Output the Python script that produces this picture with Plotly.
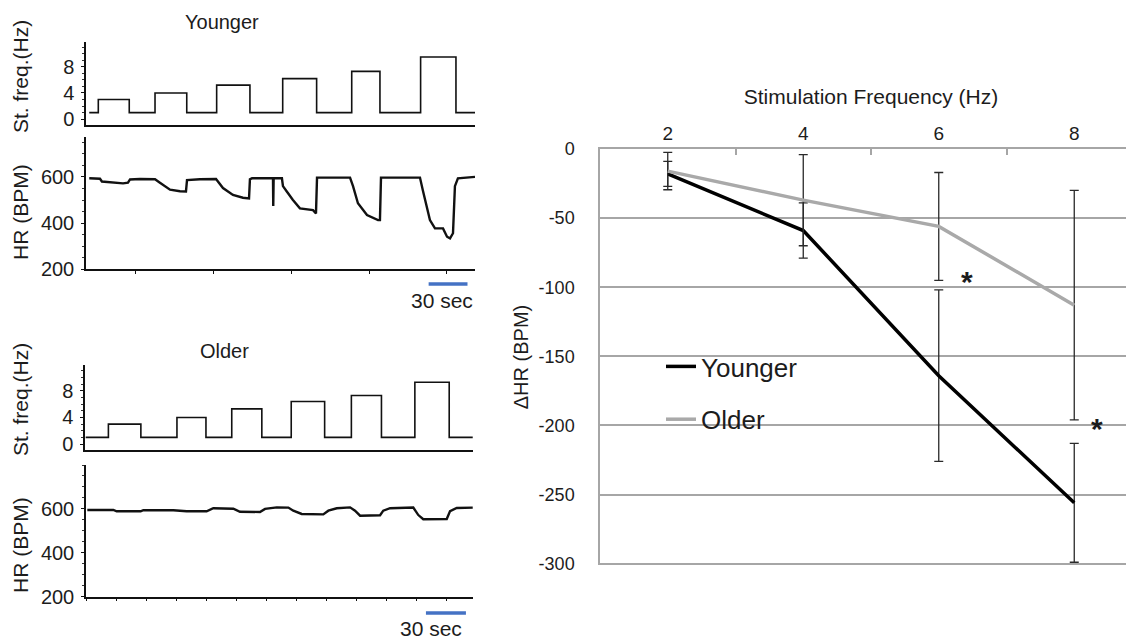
import plotly.graph_objects as go

W, H = 1134, 641
OFF = 8  # page body margin of the rendered html
FONT = "Liberation Sans, Arial, sans-serif"
TXT = "#1c1c1c"

# ---------------- Right panel: mean change in HR ----------------
stim_freq = [2, 4, 6, 8]
younger_dhr = [-18, -59, -164, -256]
younger_err = [9, 20, 62, 43]
older_dhr = [-16, -37, -56, -113]
older_err = [13.5, 33, 39, 83]
freq_ticks = [2, 4, 6, 8]
dhr_ticks = [0, -50, -100, -150, -200, -250, -300]
dhr_tick_labels = ["0", "-50", "-100", "-150", "-200", "-250", "-300"]

# ---------------- Left panels: example recordings ----------------
# Younger: stimulation protocol (time in s, frequency in Hz, step changes)
y_stim_t = [23.9, 30.9, 54.8, 74.7, 99.2, 122.3, 148.0, 173.3, 199.5, 226.6, 248.4, 279.8, 307.1, 321.8]
y_stim_hz = [1, 3, 1, 4, 1, 5.2, 1, 6.2, 1, 7.3, 1, 9.5, 1, 1]
# Younger: heart rate trace
y_hr_t = [23.9, 32.2, 33.7, 43.8, 50.0, 53.8, 55.4, 63.1, 74.7, 78.5,
          86.3, 94.0, 98.6, 99.4, 109.4, 121.8, 127.2, 134.9, 142.6, 147.3,
          148.0, 149.6, 165.8, 166.0, 166.3, 172.7, 173.5, 176.6, 181.2, 186.6,
          196.7, 199.0, 199.8, 225.3, 227.6, 231.4, 238.4, 246.9, 248.4, 249.2,
          279.3, 281.6, 287.0, 290.9, 297.1, 300.2, 302.5, 304.8, 306.3, 308.6,
          321.8]
y_hr_bpm = [594, 592, 580, 577, 572, 575, 589, 591, 590, 575,
            545, 538, 537, 586, 590, 591, 552, 522, 510, 507,
            590, 594, 594, 474, 594, 594, 560, 536, 500, 464,
            456, 442, 597, 597, 560, 486, 435, 413, 413, 597,
            597, 540, 413, 377, 377, 341, 334, 356, 560, 594,
            600]
# Older: stimulation protocol
o_stim_t = [0.5, 17.5, 41.8, 68.8, 90.5, 109.8, 132.3, 154.3, 179.3, 199.3, 221.8, 246.8, 272.5, 290.1]
o_stim_hz = [1, 3, 1, 4, 1, 5.3, 1, 6.4, 1, 7.3, 1, 9.3, 1, 1]
# Older: heart rate trace
o_hr_t = [1.0, 20.5, 23.0, 41.0, 43.0, 65.5, 75.5, 90.5, 95.5, 108.0,
          110.5, 115.5, 130.5, 134.3, 143.1, 151.8, 155.5, 161.8, 178.0, 181.8,
          188.1, 198.1, 201.8, 205.6, 220.6, 223.0, 228.1, 245.5, 249.3, 253.0,
          270.6, 273.1, 278.1, 290.1]
o_hr_bpm = [595, 595, 589, 589, 594, 594, 589, 589, 603, 604,
            601, 587, 586, 600, 607, 606, 592, 577, 575, 592,
            603, 607, 592, 569, 571, 592, 603, 606, 572, 553,
            554, 590, 604, 606]
stim_ticks = [0, 4, 8]
hr_ticks = [200, 400, 600]
# 30-s scale bars (time in s)
y_bar_t = [286, 316]
o_bar_t = [255, 285]


def px(xp):
    return (xp - OFF) / W


def py(yp):
    return 1 - (yp - OFF) / H


fig = go.Figure()

trace_line = dict(color="#111111", width=1.6)
fig.add_trace(go.Scatter(x=y_stim_t, y=y_stim_hz, mode="lines", line=dict(shape="hv", **trace_line),
                         xaxis="x", yaxis="y", showlegend=False, hoverinfo="skip"))
fig.add_trace(go.Scatter(x=y_hr_t, y=y_hr_bpm, mode="lines", line=dict(color="#111111", width=2.4),
                         xaxis="x2", yaxis="y2", showlegend=False, hoverinfo="skip"))
fig.add_trace(go.Scatter(x=o_stim_t, y=o_stim_hz, mode="lines", line=dict(shape="hv", **trace_line),
                         xaxis="x3", yaxis="y3", showlegend=False, hoverinfo="skip"))
fig.add_trace(go.Scatter(x=o_hr_t, y=o_hr_bpm, mode="lines", line=dict(color="#111111", width=2.4),
                         xaxis="x4", yaxis="y4", showlegend=False, hoverinfo="skip"))

err_style = dict(type="data", color="#2a2a2a", thickness=1.3, width=4.5)
fig.add_trace(go.Scatter(x=stim_freq, y=younger_dhr, mode="lines", name="Younger",
                         line=dict(color="#000000", width=3.5),
                         error_y=dict(array=younger_err, **err_style),
                         xaxis="x5", yaxis="y5", legendgroup="a"))
fig.add_trace(go.Scatter(x=stim_freq, y=older_dhr, mode="lines", name="Older",
                         line=dict(color="#a9a9a9", width=3.5),
                         error_y=dict(array=older_err, **err_style),
                         xaxis="x5", yaxis="y5", legendgroup="b"))

left_ax = dict(showline=True, linecolor="#111111", linewidth=1.5, showgrid=False, zeroline=False,
               tickfont=dict(size=20, color=TXT, family=FONT))
left_y = dict(ticks="outside", ticklen=3, tickcolor="#111111", ticklabelstandoff=3, **left_ax)

fig.update_layout(
    width=W, height=H,
    margin=dict(l=0, r=0, t=0, b=0, autoexpand=False),
    paper_bgcolor="white", plot_bgcolor="white",
    font=dict(family=FONT, color=TXT),
    # Younger stim
    xaxis=dict(domain=[px(86), px(475)], anchor="y", range=[21.4, 321.8], showticklabels=False,
               ticks="", **left_ax),
    yaxis=dict(domain=[py(125), py(42)], anchor="x", range=[-0.9, 11.8], tickvals=stim_ticks,
               minor=dict(dtick=1, ticks="outside", ticklen=2, tickcolor="#333333"), **left_y),
    # Younger HR
    xaxis2=dict(domain=[px(86), px(475)], anchor="y2", range=[21.4, 321.8], showticklabels=False,
                ticks="outside", ticklen=3, tickcolor="#111111", tick0=60, dtick=60, **left_ax),
    yaxis2=dict(domain=[py(269.3), py(136.5)], anchor="x2", range=[200, 775], tickvals=hr_ticks,
                minor=dict(dtick=50, ticks="outside", ticklen=2, tickcolor="#333333"), **left_y),
    # Older stim
    xaxis3=dict(domain=[px(85), px(473)], anchor="y3", range=[0, 290.3], showticklabels=False,
                ticks="", **left_ax),
    yaxis3=dict(domain=[py(450), py(365)], anchor="x3", range=[-0.9, 11.9], tickvals=stim_ticks,
                minor=dict(dtick=1, ticks="outside", ticklen=2, tickcolor="#333333"), **left_y),
    # Older HR
    xaxis4=dict(domain=[px(86), px(473)], anchor="y4", range=[0, 290.3], showticklabels=False,
                ticks="outside", ticklen=3, tickcolor="#111111", tick0=23, dtick=22.5, **left_ax),
    yaxis4=dict(domain=[py(596.7), py(465)], anchor="x4", range=[200, 800], tickvals=hr_ticks,
                minor=dict(dtick=50, ticks="outside", ticklen=2, tickcolor="#333333"), **left_y),
    # Right summary chart
    xaxis5=dict(domain=[px(600), 1], anchor="y5", side="top", range=[1, 9],
                tickvals=freq_ticks, ticks="", showline=True, linecolor="#a6a6a6", linewidth=1.5,
                showgrid=False, zeroline=False,
                minor=dict(tickvals=[3, 5, 7], ticks="inside", ticklen=6, tickcolor="#a6a6a6", tickwidth=1.5),
                tickfont=dict(size=19, color=TXT, family=FONT),
                title=dict(text="Stimulation Frequency (Hz)", font=dict(size=21, color=TXT, family=FONT),
                           standoff=12)),
    yaxis5=dict(domain=[py(565), py(149)], anchor="x5", range=[-301, 0], tickvals=dhr_ticks,
                ticktext=dhr_tick_labels,
                showline=True, linecolor="#a6a6a6", linewidth=1.5, showgrid=True,
                gridcolor="#a6a6a6", gridwidth=1.5, zeroline=False, ticks="",
                ticklabelstandoff=20,
                tickfont=dict(size=18, color=TXT, family=FONT),
                title=dict(text="ΔHR (BPM)", font=dict(size=20, color=TXT, family=FONT), standoff=5)),
    legend=dict(x=px(661), y=py(343), xanchor="left", yanchor="top", bgcolor="rgba(0,0,0,0)",
                font=dict(size=26, color=TXT, family=FONT), tracegroupgap=16, itemwidth=30),
    showlegend=True,
)

ann = [
    dict(text="Younger", x=px(222), y=py(22), xref="paper", yref="paper", font=dict(size=20)),
    dict(text="Older", x=px(224), y=py(351), xref="paper", yref="paper", font=dict(size=20)),
    dict(text="St. freq.(Hz)", x=px(20), y=py(77), xref="paper", yref="paper", textangle=-90, font=dict(size=21)),
    dict(text="HR (BPM)", x=px(20), y=py(212), xref="paper", yref="paper", textangle=-90, font=dict(size=21)),
    dict(text="St. freq.(Hz)", x=px(20), y=py(400), xref="paper", yref="paper", textangle=-90, font=dict(size=21)),
    dict(text="HR (BPM)", x=px(20), y=py(545), xref="paper", yref="paper", textangle=-90, font=dict(size=21)),
    dict(text="30 sec", x=296, y=py(300), xref="x2", yref="paper", font=dict(size=21)),
    dict(text="30 sec", x=258.8, y=py(628), xref="x4", yref="paper", font=dict(size=21)),
    dict(text="<b>*</b>", x=6.42, y=-96, xref="x5", yref="y5", font=dict(size=30)),
    dict(text="<b>*</b>", x=8.33, y=-202, xref="x5", yref="y5", font=dict(size=30)),
]
for a in ann:
    a.setdefault("showarrow", False)
    a["xanchor"] = "center"
    a["yanchor"] = "middle"
    a["font"] = dict(family=FONT, color=TXT, **a["font"])
    fig.add_annotation(**a)

fig.add_shape(type="line", xref="x2", yref="paper", x0=y_bar_t[0], x1=y_bar_t[1], y0=py(284), y1=py(284),
              line=dict(color="#4472c4", width=3.5))
fig.add_shape(type="line", xref="x4", yref="paper", x0=o_bar_t[0], x1=o_bar_t[1], y0=py(613), y1=py(613),
              line=dict(color="#4472c4", width=3.5))

fig.write_html("out.html")
